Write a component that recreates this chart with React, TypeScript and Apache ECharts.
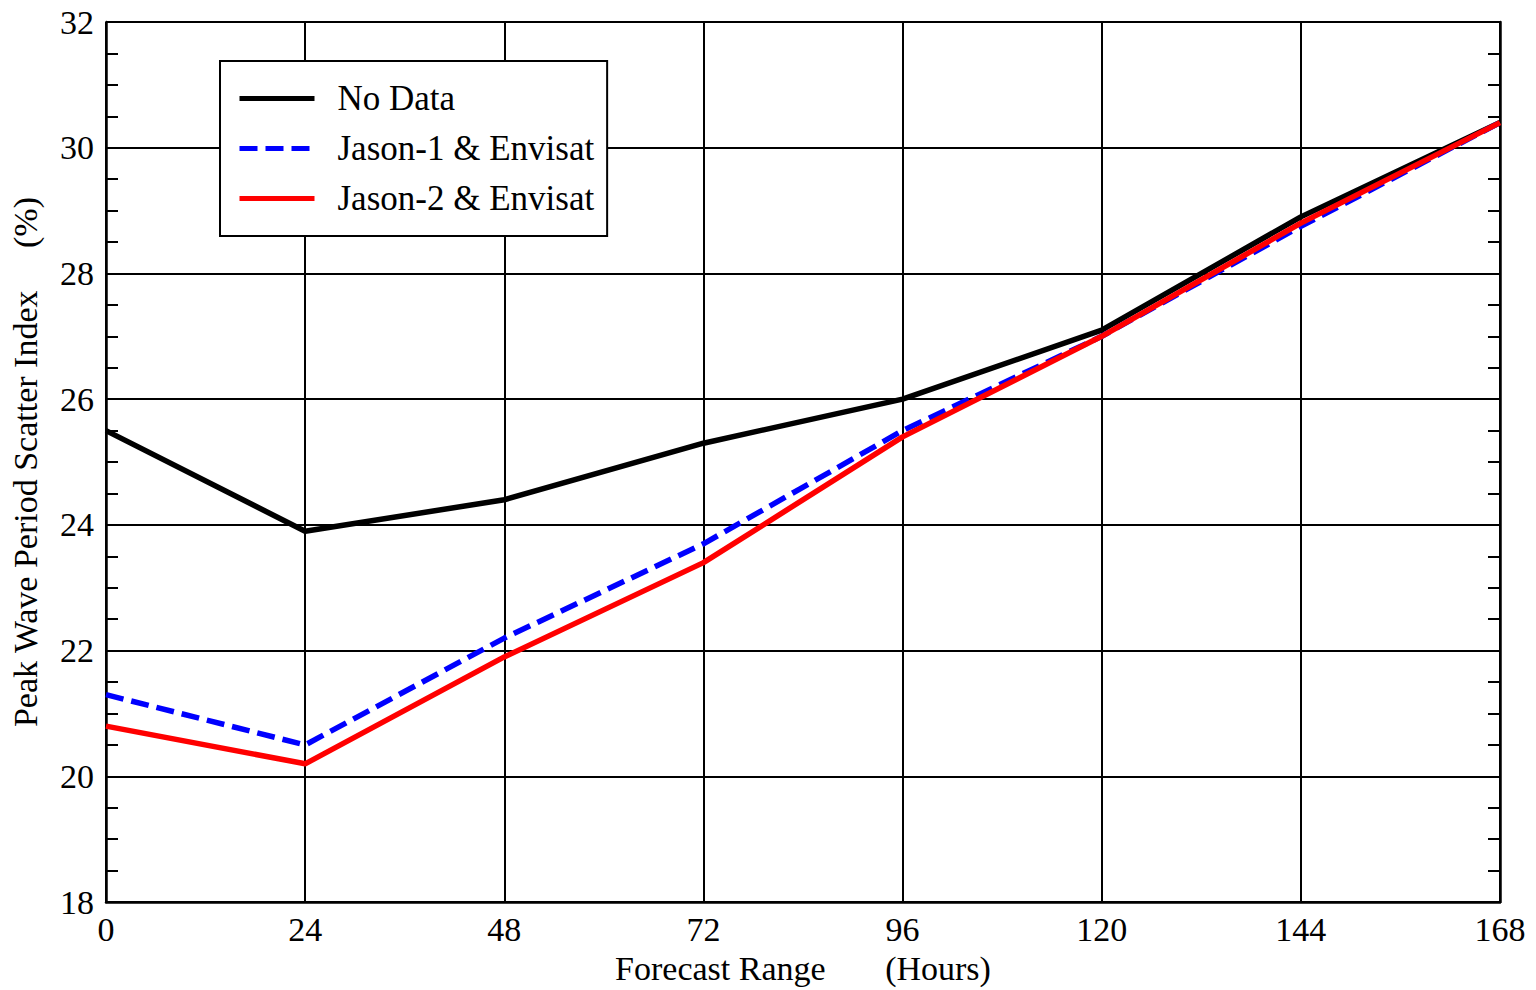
import React, { useEffect, useRef } from "react";
import * as echarts from "echarts";

const hours = [0, 24, 48, 72, 96, 120, 144, 168];
const noData = [25.5, 23.9, 24.4, 25.3, 26.0, 27.1, 28.9, 30.4];
const jason1 = [21.3, 20.5, 22.2, 23.7, 25.5, 27.0, 28.75, 30.4];
const jason2 = [20.8, 20.2, 21.9, 23.4, 25.4, 27.0, 28.8, 30.4];
const seriesNames = ["No Data", "Jason-1 & Envisat", "Jason-2 & Envisat"];
const xName = "Forecast Range\u00a0\u00a0\u00a0\u00a0\u00a0\u00a0\u00a0(Hours)";
const yName = "Peak Wave Period Scatter Index\u00a0\u00a0\u00a0\u00a0\u00a0(%)";

const FONT = "'Liberation Serif', 'Times New Roman', serif";

export default function App() {
  const ref = useRef<HTMLDivElement>(null);
  useEffect(() => {
    if (!ref.current) return;
    const chart = echarts.init(ref.current, null, { renderer: "svg" });
    const pair = (arr: number[]) => hours.map((h, i) => [h, arr[i]]);
    chart.setOption({
      animation: false,
      backgroundColor: "#fff",
      textStyle: { fontFamily: FONT, color: "#000" },
      grid: { left: 106, right: 36, top: 22, bottom: 80, containLabel: false },
      legend: {
        orient: "vertical",
        left: 220,
        top: 61,
        padding: [20, 13, 20, 17],
        itemWidth: 75,
        itemHeight: 30,
        itemGap: 15,
        borderColor: "#000",
        borderWidth: 2,
        backgroundColor: "#fff",
        itemStyle: { opacity: 0 },
        lineStyle: { width: 5 },
        textStyle: {
          fontSize: 35,
          fontFamily: FONT,
          color: "#000",
          padding: [0, 0, 0, 18],
        },
        data: seriesNames,
      },
      xAxis: {
        type: "value",
        min: 0,
        max: 168,
        interval: 24,
        name: xName,
        nameLocation: "middle",
        nameGap: 46,
        nameTextStyle: { fontSize: 34, fontFamily: FONT, color: "#000" },
        axisLine: { show: true, onZero: false, lineStyle: { color: "#000", width: 2.5 } },
        axisTick: { show: false },
        axisLabel: { fontSize: 34, fontFamily: FONT, color: "#000", margin: 10 },
        splitLine: { show: true, lineStyle: { color: "#000", width: 2 } },
      },
      yAxis: [
        {
          type: "value",
          min: 18,
          max: 32,
          interval: 2,
          name: yName,
          nameLocation: "middle",
          nameGap: 64,
          nameTextStyle: { fontSize: 34, fontFamily: FONT, color: "#000" },
          axisLine: { show: true, onZero: false, lineStyle: { color: "#000", width: 2.5 } },
          axisTick: { show: false, inside: true },
          minorTick: { show: true, splitNumber: 4, length: 12, lineStyle: { color: "#000", width: 2 } },
          axisLabel: { fontSize: 34, fontFamily: FONT, color: "#000", margin: 12 },
          splitLine: { show: true, lineStyle: { color: "#000", width: 2 } },
        },
        {
          type: "value",
          min: 18,
          max: 32,
          interval: 2,
          position: "right",
          axisLine: { show: true, onZero: false, lineStyle: { color: "#000", width: 2.5 } },
          axisTick: { show: false, inside: true },
          minorTick: { show: true, splitNumber: 4, length: 12, lineStyle: { color: "#000", width: 2 } },
          axisLabel: { show: false },
          splitLine: { show: false },
        },
      ],
      series: [
        {
          name: seriesNames[0],
          type: "line",
          data: pair(noData),
          symbol: "none",
          lineStyle: { color: "#000", width: 5.5 },
          itemStyle: { color: "#000" },
        },
        {
          name: seriesNames[1],
          type: "line",
          data: pair(jason1),
          symbol: "none",
          lineStyle: { color: "#0000ff", width: 5.5, type: [18, 8] },
          itemStyle: { color: "#0000ff" },
        },
        {
          name: seriesNames[2],
          type: "line",
          data: pair(jason2),
          symbol: "none",
          lineStyle: { color: "#ff0000", width: 5.5 },
          itemStyle: { color: "#ff0000" },
        },
      ],
    });
    return () => chart.dispose();
  }, []);
  return (
    <div
      ref={ref}
      style={{ position: "fixed", left: 0, top: 0, width: 1536, height: 990, background: "#fff" }}
    />
  );
}
